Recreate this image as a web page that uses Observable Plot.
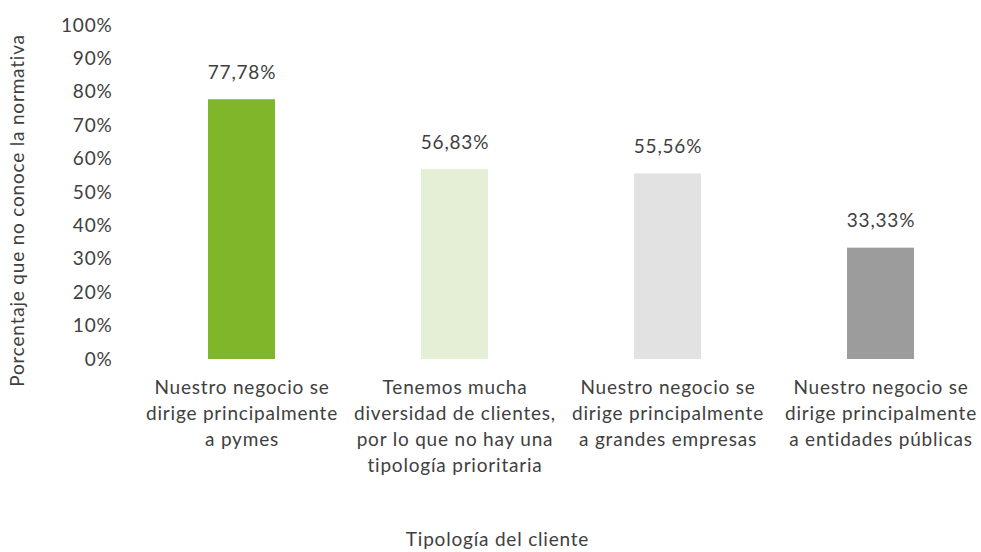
<!DOCTYPE html>
<html><head><meta charset="utf-8">
<script src="https://cdn.jsdelivr.net/npm/d3@7"></script>
<script src="https://cdn.jsdelivr.net/npm/@observablehq/plot@0.6"></script>
<style>body{margin:0;background:#fff} svg text{letter-spacing:0.8px}</style>
</head><body><div id="chart"></div>
<script>
const categories = [
  "Nuestro negocio se\ndirige principalmente\na pymes",
  "Tenemos mucha\ndiversidad de clientes,\npor lo que no hay una\ntipología prioritaria",
  "Nuestro negocio se\ndirige principalmente\na grandes empresas",
  "Nuestro negocio se\ndirige principalmente\na entidades públicas"
];
const values = [77.78, 56.83, 55.56, 33.33];
const barColors = ["#7fb62a", "#e4efd5", "#e2e2e2", "#9c9c9c"];
const yTicks = [0, 10, 20, 30, 40, 50, 60, 70, 80, 90, 100];
const yLabel = "Porcentaje que no conoce la normativa";
const xLabel = "Tipología del cliente";

const data = categories.map((c, i) => ({cat: c, value: values[i], color: barColors[i]}));
const fmt = v => v.toFixed(2).replace(".", ",") + "%";
const txt = "#404040";
const fs = 19;

const chart = Plot.plot({
  width: 981, height: 552,
  marginLeft: 143, marginRight: 2, marginTop: 25, marginBottom: 193,
  style: {fontFamily: "Lato, sans-serif", fontSize: fs + "px", color: txt, background: "white"},
  x: {domain: categories, paddingInner: 0.686, paddingOuter: 0.299, label: null},
  y: {domain: [0, 100], label: null},
  color: {type: "identity"},
  marks: [
    Plot.barY(data, {x: "cat", y: "value", fill: "color"}),
    Plot.text(data, {x: "cat", y: "value", text: d => fmt(d.value), dy: -27, fill: txt, fontSize: fs}),
    Plot.axisY({ticks: yTicks, tickSize: 0, tickPadding: 31, tickFormat: d => d + "%", fontSize: fs, label: null, fill: txt}),
    Plot.axisX({tickSize: 0, tickPadding: 16, lineHeight: 1.37, fontSize: fs, label: null, fill: txt}),
    Plot.text([yLabel], {frameAnchor: "left", textAnchor: "middle", rotate: -90, dx: -126, dy: 18, fontSize: fs, fill: txt, lineAnchor: "middle"}),
    Plot.text([xLabel], {frameAnchor: "bottom", textAnchor: "middle", dx: -64, dy: 180, fontSize: fs, fill: txt, lineAnchor: "middle"})
  ]
});
document.getElementById("chart").append(chart);
</script>
</body></html>
